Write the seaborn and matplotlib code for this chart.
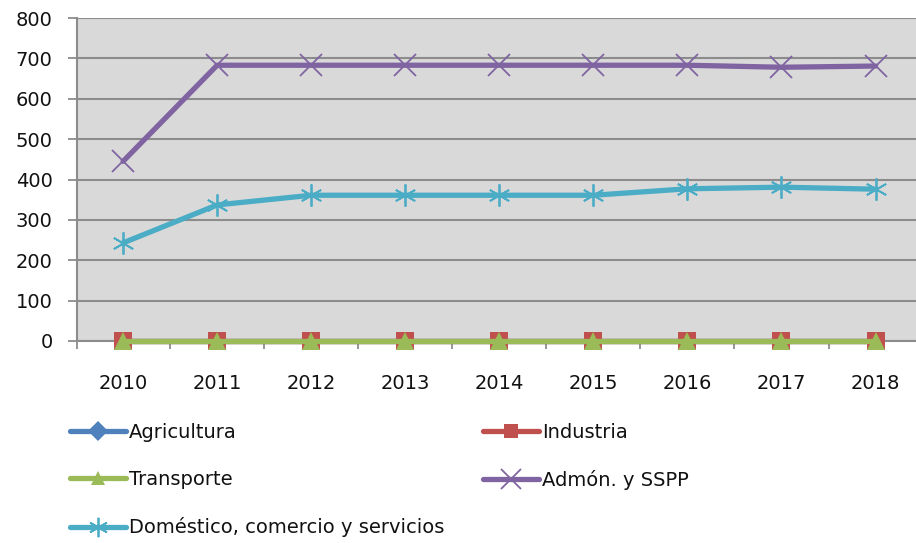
import seaborn as sns
import matplotlib.pyplot as plt
from matplotlib.lines import Line2D

# datos
years = [2010, 2011, 2012, 2013, 2014, 2015, 2016, 2017, 2018]
agricultura = [0, 0, 0, 0, 0, 0, 0, 0, 0]
industria = [0, 0, 0, 0, 0, 0, 0, 0, 0]
transporte = [0, 0, 0, 0, 0, 0, 0, 0, 0]
admon = [445, 683, 683, 683, 683, 683, 683, 678, 681]
domestico = [243, 337, 361, 361, 361, 361, 377, 381, 376]

series = ["Agricultura", "Industria", "Transporte", "Admón. y SSPP",
          "Doméstico, comercio y servicios"]
colors = ["#4F81BD", "#C0504D", "#9BBB59", "#8064A2", "#4BACC6"]
markers = ["D", "s", "^", "x", (6, 2, 0)]
msizes = [8, 13, 13, 16, 16]

sns.set_style("white")
plt.rcParams["font.family"] = ["DejaVu Sans"]
plt.rcParams["text.color"] = "#111111"
plt.rcParams["xtick.labelcolor"] = "#111111"
plt.rcParams["ytick.labelcolor"] = "#111111"

fig = plt.figure(figsize=(9.16, 5.43), dpi=100)
ax = fig.add_axes([77 / 916, 1 - 341 / 543, 1 - 77 / 916, 323 / 543])
ax.set_facecolor("#D9D9D9")

handles = {}
for name, vals, c, m, ms in zip(series, [agricultura, industria, transporte, admon, domestico],
                                colors, markers, msizes):
    linea = m == "x" or isinstance(m, tuple)
    sns.lineplot(x=years, y=vals, color=c, marker=m, markersize=ms,
                 markeredgecolor=c, markerfacecolor=c,
                 markeredgewidth=1.3 if linea else 0,
                 linewidth=3.8, clip_on=False, zorder=3, ax=ax)
    handles[name] = Line2D([], [], color=c, linewidth=3.8, marker=m,
                           markersize=14 if linea else 10,
                           markeredgecolor=c, markerfacecolor=c,
                           markeredgewidth=1.3 if linea else 0)

ax.set_ylim(0, 800)
ax.set_xlim(2009.51, 2018.43)
ax.set_yticks(range(0, 801, 100))
ax.set_xticks(years)
ax.set_xticks([y + 0.5 for y in years[:-1]] + [2009.51], minor=True)
ax.grid(axis="y", color="#8C8C8C", linewidth=1.5)
ax.set_axisbelow(True)
ax.tick_params(axis="y", which="major", left=True, length=6.5, width=1.3,
               color="#8C8C8C", labelsize=14, pad=11)
ax.tick_params(axis="x", which="major", bottom=False, labelsize=14, pad=20)
ax.tick_params(axis="x", which="minor", bottom=True, length=6, width=1.3,
               color="#8C8C8C")
ax.set_xlabel("")
ax.set_ylabel("")
for s in ["top", "right"]:
    ax.spines[s].set_visible(False)
ax.spines["left"].set_color("#8C8C8C")
ax.spines["left"].set_linewidth(1.5)
ax.spines["bottom"].set_color("#8C8C8C")
ax.spines["bottom"].set_linewidth(1.5)

# leyenda en dos columnas colocadas a mano
izq = ["Agricultura", "Transporte", "Doméstico, comercio y servicios"]
der = ["Industria", "Admón. y SSPP"]
for nombres, x0 in [(izq, 70), (der, 483)]:
    fig.legend([handles[n] for n in nombres], nombres, frameon=False,
               loc="upper left", bbox_to_anchor=(x0 / 916, 1 - 423 / 543),
               borderaxespad=0, borderpad=0, fontsize=14, handlelength=2.9,
               handletextpad=0.15, labelspacing=1.45)

fig.savefig("out.png", dpi=100)
